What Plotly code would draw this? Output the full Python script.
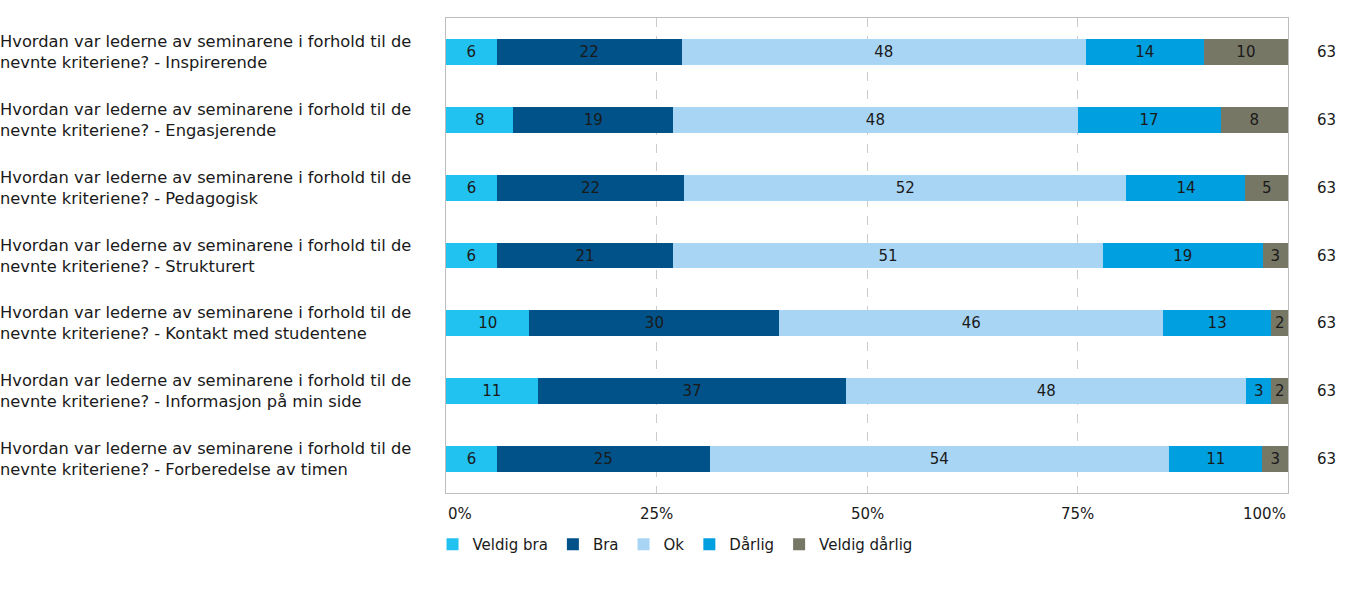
import plotly.graph_objects as go

questions = [
    "Hvordan var lederne av seminarene i forhold til de<br>nevnte kriteriene? - Inspirerende",
    "Hvordan var lederne av seminarene i forhold til de<br>nevnte kriteriene? - Engasjerende",
    "Hvordan var lederne av seminarene i forhold til de<br>nevnte kriteriene? - Pedagogisk",
    "Hvordan var lederne av seminarene i forhold til de<br>nevnte kriteriene? - Strukturert",
    "Hvordan var lederne av seminarene i forhold til de<br>nevnte kriteriene? - Kontakt med studentene",
    "Hvordan var lederne av seminarene i forhold til de<br>nevnte kriteriene? - Informasjon på min side",
    "Hvordan var lederne av seminarene i forhold til de<br>nevnte kriteriene? - Forberedelse av timen",
]
series_names = ["Veldig bra", "Bra", "Ok", "Dårlig", "Veldig dårlig"]
colors = ["#21c1f0", "#005288", "#a9d5f4", "#009fdf", "#777766"]

# percentage labels as shown on the bars
veldig_bra = [6, 8, 6, 6, 10, 11, 6]
bra = [22, 19, 22, 21, 30, 37, 25]
ok = [48, 48, 52, 51, 46, 48, 54]
darlig = [14, 17, 14, 19, 13, 3, 11]
veldig_darlig = [10, 8, 5, 3, 2, 2, 3]
n_values = [63, 63, 63, 63, 63, 63, 63]

x_ticks = [0, 25, 50, 75, 100]
x_ticklabels = ["0%", "25%", "50%", "75%", "100%"]

series = [veldig_bra, bra, ok, darlig, veldig_darlig]
ycats = [f"q{i}" for i in range(len(questions))]

FONT = "DejaVu Sans"
TXT = "#1a1a1a"
fig = go.Figure()
for name, vals, col in zip(series_names, series, colors):
    fig.add_trace(go.Bar(
        y=ycats, x=vals, name=name, orientation="h",
        marker=dict(color=col, line=dict(width=0)),
        text=[str(v) for v in vals], textposition="inside",
        insidetextanchor="middle", constraintext="none",
        textfont=dict(family=FONT, size=15, color=TXT),
        cliponaxis=False,
    ))

WIDTH, HEIGHT = 1349, 599
L, R, T, B = 446, 61, 18, 106
W = WIDTH - L - R
H = HEIGHT - T - B

annotations = []
for q, yc, n in zip(questions, ycats, n_values):
    annotations.append(dict(
        xref="paper", yref="y", x=-(L + 2) / W, y=yc, text=q, showarrow=False,
        xanchor="left", yanchor="middle", align="left",
        font=dict(family=FONT, size=16.3, color=TXT)))
    annotations.append(dict(
        xref="paper", yref="y", x=1 + 38 / W, y=yc, text=str(n), showarrow=False,
        xanchor="center", yanchor="middle",
        font=dict(family=FONT, size=15, color=TXT)))
anchors = ["left", "center", "center", "center", "right"]
for tv, tl, anc in zip(x_ticks, x_ticklabels, anchors):
    annotations.append(dict(
        xref="x", yref="paper", x=tv, y=-21 / H, text=tl, showarrow=False,
        xanchor=anc, yanchor="middle",
        font=dict(family=FONT, size=15, color=TXT)))

fig.update_layout(
    width=WIDTH, height=HEIGHT,
    margin=dict(l=L, r=R, t=T, b=B, pad=0),
    barmode="stack", barnorm="percent", bargap=0.62,
    plot_bgcolor="white", paper_bgcolor="white",
    font=dict(family=FONT, size=15, color=TXT),
    showlegend=True,
    legend=dict(orientation="h", x=-0.016, xanchor="left", y=-35 / H, yanchor="top",
                font=dict(family=FONT, size=15, color=TXT),
                itemwidth=30, tracegroupgap=0, traceorder="normal"),
    annotations=annotations,
)
fig.update_xaxes(range=[0, 100.0001], tickvals=x_ticks, showticklabels=False,
                 showgrid=True, gridcolor="#cccccc", griddash="dash", gridwidth=1,
                 showline=True, linecolor="#bdbdbd", linewidth=1, mirror=True,
                 zeroline=False, fixedrange=True)
fig.update_yaxes(autorange="reversed", showticklabels=False, showgrid=False,
                 showline=True, linecolor="#bdbdbd", linewidth=1, mirror=True,
                 fixedrange=True)

fig.write_html("out.html", config={"displayModeBar": False},
               post_script="document.body.style.margin='0';document.body.style.overflow='hidden';")
